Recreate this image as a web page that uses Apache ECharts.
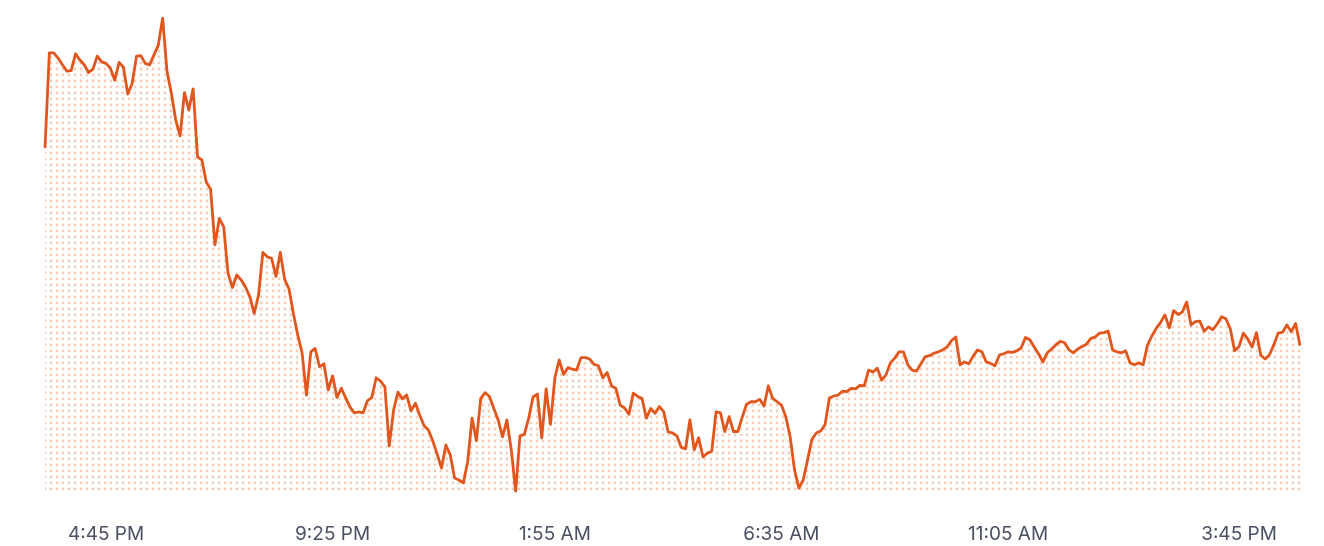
<!DOCTYPE html>
<html>
<head>
<meta charset="utf-8">
<title>Price line</title>
<script src="https://cdn.jsdelivr.net/npm/echarts/dist/echarts.min.js"></script>
<style>
  html, body { margin: 0; padding: 0; background: #fff; }
  #chart { width: 1324px; height: 546px; }
</style>
</head>
<body>
<div id="chart"></div>
<script>
// values, one per sample (289 samples)
const values = [
  71.7, 91.5, 91.5, 90.4, 89.0, 87.7, 87.8, 91.3, 90.0, 89.0,
  87.4, 88.1, 90.8, 89.6, 89.3, 88.3, 85.8, 89.5, 88.5, 82.9,
  85.1, 90.8, 90.9, 89.3, 89.0, 91.0, 93.1, 98.7, 87.6, 83.1,
  77.5, 74.2, 83.2, 79.6, 84.0, 69.8, 69.2, 64.6, 63.1, 51.5,
  57.0, 55.3, 45.6, 42.6, 45.2, 44.2, 42.7, 40.7, 37.2, 41.0,
  49.9, 49.0, 48.7, 44.9, 49.9, 44.3, 42.3, 37.2, 32.7, 29.0,
  20.2, 29.2, 29.9, 26.1, 26.7, 21.3, 24.2, 19.7, 21.6, 19.6,
  17.7, 16.5, 16.7, 16.5, 19.0, 19.7, 23.8, 23.1, 21.9, 9.6,
  17.1, 20.8, 19.4, 20.2, 16.9, 18.5, 16.0, 13.8, 12.9, 10.6,
  7.9, 5.0, 9.8, 7.7, 2.9, 2.5, 1.9, 6.3, 15.4, 10.7,
  19.5, 20.7, 19.9, 17.4, 15.0, 11.5, 15.0, 8.8, 0.2, 11.7,
  12.0, 15.4, 19.8, 20.4, 11.3, 21.5, 14.1, 23.8, 27.5, 24.5,
  25.9, 25.6, 25.4, 28.0, 28.0, 27.7, 26.6, 26.3, 23.8, 24.9,
  22.1, 21.6, 18.1, 17.5, 16.2, 20.6, 19.9, 19.5, 15.4, 17.4,
  16.4, 17.8, 16.7, 12.5, 12.3, 11.7, 9.3, 9.0, 15.0, 8.8,
  11.3, 7.3, 8.1, 8.5, 16.7, 16.5, 12.6, 15.7, 12.6, 12.6,
  15.6, 18.3, 18.8, 18.8, 19.3, 17.9, 22.1, 19.5, 18.8, 18.1,
  15.7, 11.5, 4.6, 0.8, 2.5, 6.7, 11.0, 12.3, 12.7, 14.0,
  19.6, 20.0, 20.2, 21.0, 20.9, 21.6, 21.5, 22.2, 22.1, 25.4,
  25.0, 25.8, 23.3, 24.4, 26.9, 27.9, 29.2, 29.2, 26.5, 25.4,
  25.2, 26.7, 28.2, 28.4, 28.9, 29.2, 29.6, 30.2, 31.5, 32.3,
  26.5, 27.1, 26.7, 28.3, 29.6, 29.2, 27.1, 26.8, 26.3, 28.5,
  28.8, 29.2, 29.1, 29.4, 30.0, 32.2, 31.7, 30.2, 28.8, 27.1,
  29.0, 29.8, 30.7, 31.4, 31.1, 29.6, 29.0, 29.8, 30.3, 30.8,
  32.0, 32.3, 33.1, 33.2, 33.5, 29.6, 29.2, 29.0, 29.4, 26.9,
  26.5, 26.9, 26.5, 30.6, 32.5, 34.1, 35.3, 36.9, 34.2, 37.8,
  37.0, 37.5, 39.6, 34.8, 35.5, 35.6, 33.5, 34.4, 33.8, 35.0,
  36.5, 36.1, 34.0, 29.4, 30.3, 33.1, 31.9, 30.2, 33.2, 28.5,
  27.7, 28.6, 30.7, 33.1, 33.3, 34.8, 33.4, 35.1, 30.5
];

// x-axis tick labels and the sample each one sits under
const tickLabels = ['4:45 PM', '9:25 PM', '1:55 AM', '6:35 AM', '11:05 AM', '3:45 PM'];
const tickIndex = [14, 66, 117, 169, 221, 274];

const categories = values.map((v, i) => String(i));

// dotted fill under the line
function dotPattern() {
  const c = document.createElement('canvas');
  c.width = 6;
  c.height = 6;
  const ctx = c.getContext('2d');
  ctx.fillStyle = '#f6cdb6';
  ctx.beginPath();
  ctx.arc(3, 3, 1.4, 0, Math.PI * 2);
  ctx.fill();
  return c;
}

const chart = echarts.init(document.getElementById('chart'), null, { renderer: 'canvas' });

const option = {
  animation: false,
  grid: { left: 45, right: 24, top: 12, bottom: 54 },
  xAxis: {
    type: 'category',
    data: categories,
    boundaryGap: false,
    axisLine: { show: false },
    axisTick: { show: false },
    splitLine: { show: false },
    axisLabel: {
      interval: (idx) => tickIndex.indexOf(idx) !== -1,
      formatter: (val, idx) => {
        const k = tickIndex.indexOf(Number(val));
        return k === -1 ? '' : tickLabels[k];
      },
      color: '#4a5163',
      fontFamily: 'Inter',
      fontSize: 19,
      margin: 33
    }
  },
  yAxis: {
    type: 'value',
    min: 0,
    max: 100,
    show: false
  },
  series: [
    {
      type: 'line',
      data: values,
      symbol: 'none',
      lineStyle: { color: '#e0561d', width: 2.8, join: 'round' },
      areaStyle: {
        color: { image: dotPattern(), repeat: 'repeat' },
        opacity: 1
      }
    }
  ]
};

chart.setOption(option);
</script>
</body>
</html>
